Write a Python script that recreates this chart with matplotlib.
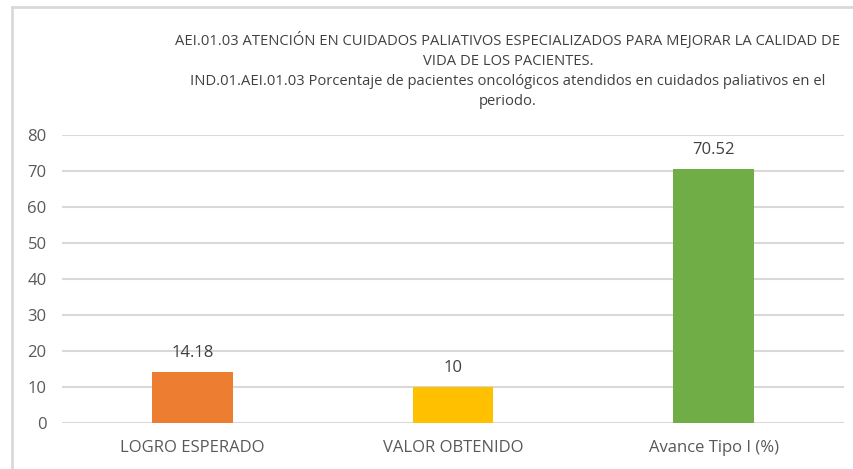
import matplotlib
matplotlib.use('Agg')
import matplotlib.pyplot as plt
from matplotlib.lines import Line2D

categories = ['LOGRO ESPERADO', 'VALOR OBTENIDO', 'Avance Tipo I (%)']
values = [14.18, 10, 70.52]
value_labels = ['14.18', '10', '70.52']
colors = ['#ED7D31', '#FFC000', '#70AD47']
yticks = [0, 10, 20, 30, 40, 50, 60, 70, 80]
title = ('AEI.01.03 ATENCIÓN EN CUIDADOS PALIATIVOS ESPECIALIZADOS PARA MEJORAR LA CALIDAD DE\n'
         'VIDA DE LOS PACIENTES.\n'
         'IND.01.AEI.01.03 Porcentaje de pacientes oncológicos atendidos en cuidados paliativos en el\n'
         'periodo.')

plt.rcParams['font.family'] = ['Open Sans', 'DejaVu Sans']
grey = '#595959'

fig = plt.figure(figsize=(8.54, 4.69), dpi=100)
W, H = 854, 469
ax = fig.add_axes([62 / W, 1 - 423.3 / H, (844 - 62) / W, (423.3 - 135) / H])

x = range(len(categories))
ax.bar(x, values, width=0.31, color=colors, zorder=3)
for i, v in enumerate(values):
    ax.annotate(value_labels[i], (i, v), xytext=(0, 8), textcoords='offset points',
                ha='center', va='bottom', fontsize=12, color='#404040')

ax.set_xlim(-0.5, len(categories) - 0.5)
ax.set_ylim(0, 80)
ax.set_yticks(yticks)
ax.set_xticks(list(x))
ax.set_xticklabels(categories)
ax.tick_params(axis='both', length=0, labelsize=12, labelcolor=grey)
ax.tick_params(axis='y', pad=11)
ax.tick_params(axis='x', pad=12)
ax.yaxis.grid(True, color='#d9d9d9', linewidth=1.5, zorder=0)
for s in ax.spines.values():
    s.set_visible(False)

fig.text(508 / W, 1 - 70.5 / H, title, ha='center', va='center', fontsize=10.6,
         color='#404040', linespacing=1.45)

# chart frame (top and left edges visible)
fig.add_artist(Line2D([12 / W, 1], [1 - 7 / H, 1 - 7 / H], color='#d9d9d9', lw=2,
                      transform=fig.transFigure))
fig.add_artist(Line2D([12 / W, 12 / W], [0, 1 - 7 / H], color='#d9d9d9', lw=2,
                      transform=fig.transFigure))

fig.savefig('out.png', dpi=100)
